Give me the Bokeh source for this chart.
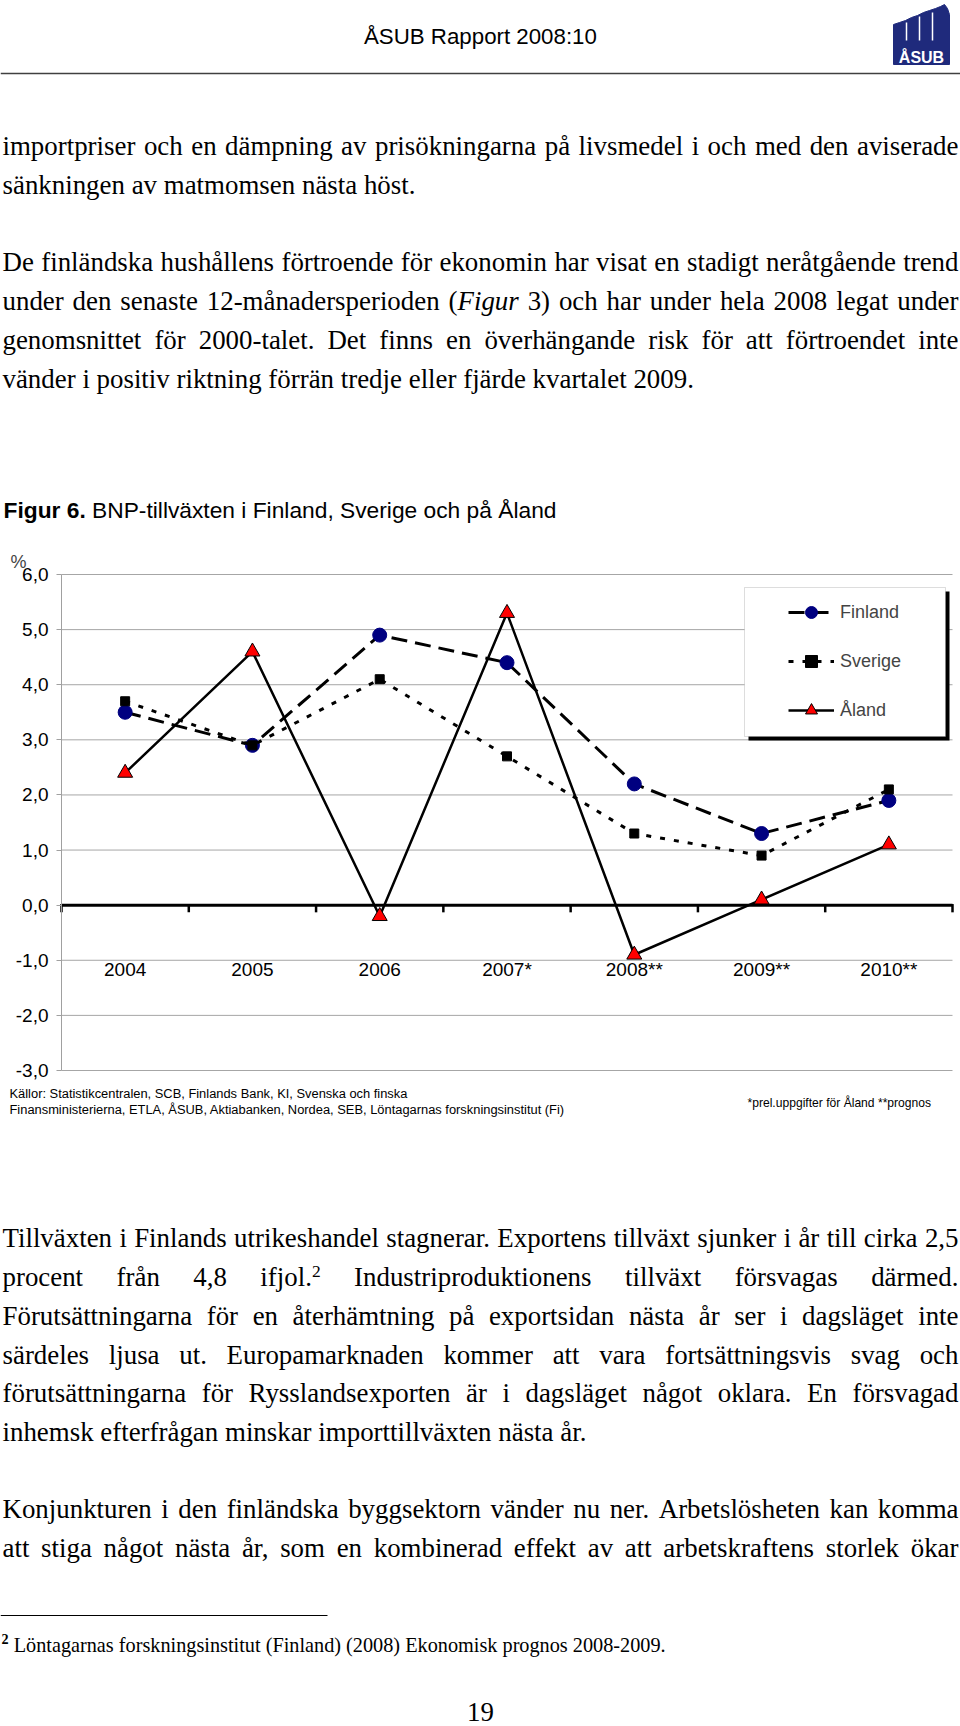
import glob
import os
import re

from bokeh.plotting import figure
from bokeh.models import (Range1d, FixedTicker, CustomJSTickFormatter,
                          Span, Label, Legend, LegendItem, BoxAnnotation)
from bokeh.layouts import column
from bokeh.core.properties import value
from bokeh.embed import file_html
from bokeh.resources import INLINE

# ---------------- chart data ----------------
years = ["2004", "2005", "2006", "2007*", "2008**", "2009**", "2010**"]
finland = [3.5, 2.9, 4.9, 4.4, 2.2, 1.3, 1.9]
sverige = [3.7, 2.9, 4.1, 2.7, 1.3, 0.9, 2.1]
aland = [2.4, 4.6, -0.2, 5.3, -0.9, 0.1, 1.1]
series_names = ["Finland", "Sverige", "Åland"]
y_ticks = [-3, -2, -1, 0, 1, 2, 3, 4, 5, 6]
y_unit = "%"

# ---------------- page texts ----------------
header_text = "ÅSUB Rapport 2008:10"
logo_text = "ÅSUB"
title_bold = "Figur 6."
title_rest = "BNP-tillväxten i Finland, Sverige och på Åland"
source_lines = [
    "Källor: Statistikcentralen, SCB, Finlands Bank, KI,  Svenska och finska",
    "Finansministerierna,  ETLA, ÅSUB, Aktiabanken, Nordea, SEB, Löntagarnas forskningsinstitut (Fi)",
]
note_text = "*prel.uppgifter för Åland  **prognos"
top_lines = [
    ("importpriser och en dämpning av prisökningarna på livsmedel i och med den aviserade", True),
    ("sänkningen av matmomsen nästa höst.", False),
    ("De finländska hushållens förtroende för ekonomin har visat en stadigt neråtgående trend", True),
    ("under den senaste 12-månadersperioden ({i:Figur} 3) och har under hela 2008 legat under", True),
    ("genomsnittet för 2000-talet. Det finns en överhängande risk för att förtroendet inte", True),
    ("vänder i positiv riktning förrän tredje eller fjärde kvartalet 2009.", False),
]
bottom_lines = [
    ("Tillväxten i Finlands utrikeshandel stagnerar. Exportens tillväxt sjunker i år till cirka 2,5", True),
    ("procent från 4,8 ifjol.{sup:2} Industriproduktionens tillväxt försvagas därmed.", True),
    ("Förutsättningarna för en återhämtning på exportsidan nästa år ser i dagsläget inte", True),
    ("särdeles ljusa ut. Europamarknaden kommer att vara fortsättningsvis svag och", True),
    ("förutsättningarna för Rysslandsexporten är i dagsläget något oklara. En försvagad", True),
    ("inhemsk efterfrågan minskar importtillväxten nästa år.", False),
    ("Konjunkturen i den finländska byggsektorn vänder nu ner. Arbetslösheten kan komma", True),
    ("att stiga något nästa år, som en kombinerad effekt av att arbetskraftens storlek ökar", True),
]
footnote_text = "{bsup:2} Löntagarnas forskningsinstitut (Finland) (2008) Ekonomisk prognos 2008-2009."
page_number = "19"

# ---------------- layout constants (screen px) ----------------
W = 960
TOP_Y0, TOP_Y1 = 0, 540
CH_Y0, CH_Y1 = 540, 1082
BOT_Y0, BOT_Y1 = 1082, 1726
FRAME_L, FRAME_R, FRAME_T, FRAME_B = 61, 952, 574, 1070   # the -3..6 plot area
CH_FRAME_T = 548                                           # drawn frame top (room for labels)
TEXT_L, TEXT_R = 2, 958
BASE_K = 0.3  # empirical baseline correction (fraction of font size)
top_baselines = [154, 193, 270, 309, 348, 387]
bottom_baselines = [1246, 1285, 1324, 1363, 1401, 1440, 1517, 1556]

FONT_FILES = {"serif": "LiberationSerif-Regular.ttf", "serif_italic": "LiberationSerif-Italic.ttf",
              "serif_bold": "LiberationSerif-Bold.ttf", "sans": "LiberationSans-Regular.ttf",
              "sans_bold": "LiberationSans-Bold.ttf"}
FALLBACK_EM = {"serif": 0.45, "serif_italic": 0.44, "serif_bold": 0.48, "sans": 0.5, "sans_bold": 0.55}
STYLE_MAP = {"serif": ("Liberation Serif", "normal"), "serif_italic": ("Liberation Serif", "italic"),
             "serif_bold": ("Liberation Serif", "bold"), "sans": ("Liberation Sans", "normal"),
             "sans_bold": ("Liberation Sans", "bold")}
_font_cache = {}


def _load(style):
    if style in _font_cache:
        return _font_cache[style]
    f = None
    try:
        from PIL import ImageFont
        for d in ("/usr/share/fonts", "/usr/local/share/fonts", os.path.expanduser("~/.local/share/fonts"),
                  os.path.expanduser("~/.fonts")):
            hits = glob.glob(os.path.join(d, "**", FONT_FILES[style]), recursive=True)
            if hits:
                f = ImageFont.truetype(hits[0], 200)
                break
    except Exception:
        f = None
    _font_cache[style] = f
    return f


def measure(text, style, size):
    f = _load(style)
    if f is not None:
        try:
            return f.getlength(text) * size / 200.0
        except Exception:
            pass
    return len(text) * FALLBACK_EM[style] * size


def clamp(v, lo, hi):
    return max(lo, min(hi, v))


body_size = clamp(0.5 * (412 / measure("sänkningen av matmomsen nästa höst.", "serif", 1)
                         + 693 / measure(top_lines[5][0], "serif", 1)), 21, 28)
header_size = clamp(233 / measure(header_text, "sans", 1), 18, 24)
title_size = clamp(553 / (measure(title_bold + " ", "sans_bold", 1) + measure(title_rest, "sans", 1)), 17, 23)
source_size = clamp(559 / measure(source_lines[1], "sans", 1), 10, 13)
note_size = clamp(187 / measure(note_text, "sans", 1), 9, 13)
foot_size = clamp(652 / measure("Löntagarnas forskningsinstitut (Finland) (2008) Ekonomisk prognos 2008-2009.",
                                "serif", 1), 16, 22)

RUN_STYLES = {"i": ("serif_italic", 1.0, 0.0), "sup": ("serif", 0.65, -0.34), "bsup": ("serif_bold", 0.7, -0.42)}


def parse_word(word):
    runs = []
    for part in re.split(r"(\{\w+:[^}]*\})", word):
        if not part:
            continue
        m = re.match(r"\{(\w+):([^}]*)\}", part)
        if m:
            st, sc, dy = RUN_STYLES[m.group(1)]
            runs.append((m.group(2), st, sc, dy))
        else:
            runs.append((part, "serif", 1.0, 0.0))
    return runs


class TextCollector:
    def __init__(self):
        self.groups = {}

    def add(self, style, size, x, y, text):
        g = self.groups.setdefault((style, round(size, 2)), {"x": [], "y": [], "text": []})
        g["x"].append(x)
        g["y"].append(y - BASE_K * size)
        g["text"].append(text)

    def line(self, spec, base, size, justify, x0=TEXT_L, x1=TEXT_R):
        words = [parse_word(w) for w in spec.split(" ") if w]
        widths = [sum(measure(t, st, size * sc) for t, st, sc, dy in runs) for runs in words]
        if justify and len(words) > 1:
            gap = (x1 - x0 - sum(widths)) / (len(words) - 1)
        else:
            gap = measure(" ", "serif", size)
        x = x0
        for runs, w in zip(words, widths):
            xx = x
            for t, st, sc, dy in runs:
                self.add(st, size * sc, xx, base + dy * size, t)
                xx += measure(t, st, size * sc)
            x += w + gap

    def render(self, fig, color="black"):
        for (style, size), g in self.groups.items():
            fam, fstyle = STYLE_MAP[style]
            fig.text(x=g["x"], y=g["y"], text=g["text"], text_font=value(fam),
                     text_font_size=value(f"{size}px"), text_font_style=fstyle,
                     text_baseline="alphabetic", text_align="left", text_color=color)


def text_fig(y0, y1):
    f = figure(width=W, height=y1 - y0, x_range=Range1d(0, W), y_range=Range1d(y1, y0),
               output_backend="svg", toolbar_location=None, min_border=0, outline_line_color=None,
               x_axis_location=None, y_axis_location=None, background_fill_color="white",
               border_fill_color="white")
    f.grid.visible = False
    return f


# ---------------- top part of the page ----------------
top = text_fig(TOP_Y0, TOP_Y1)
tc = TextCollector()
for (spec, just), base in zip(top_lines, top_baselines):
    tc.line(spec, base, body_size, just)
hw = measure(header_text, "sans", header_size)
tc.add("sans", header_size, 480 - hw / 2, 43, header_text)
tc.add("sans_bold", title_size, 3, 516, title_bold)
tc.add("sans", title_size, 3 + measure(title_bold + " ", "sans_bold", title_size), 516, title_rest)
tc.render(top)
top.add_layout(Span(location=73, dimension="width", line_color="#404040", line_width=1.5))
# logo
logo_x = [893, 893, 899, 905, 911, 917, 923, 929, 935, 940, 944, 947, 949, 949]
logo_y = [64, 24, 22, 20, 17, 15, 12, 10, 8, 6, 4, 8, 14, 64]
top.patch(logo_x, logo_y, fill_color="#1F2A7C", line_color="#1F2A7C")
top.segment(x0=[906, 919, 932], y0=[22, 16, 12], x1=[906, 919, 932], y1=[40, 40, 40],
            line_color="white", line_width=1.5)
lc = TextCollector()
lw = measure(logo_text, "sans_bold", 16)
lc.add("sans_bold", 16, 921 - lw / 2, 62, logo_text)
lc.render(top, color="white")

# ---------------- chart ----------------
ncat = len(years)
px_per_x = (FRAME_R - FRAME_L) / ncat
px_per_y = (FRAME_B - FRAME_T) / (y_ticks[-1] - y_ticks[0])


def sx(px):
    return (px - FRAME_L) / px_per_x


def sy(py):
    return y_ticks[-1] - (py - FRAME_T) / px_per_y


xs = [i + 0.5 for i in range(ncat)]  # category centres
chart = figure(width=W, height=CH_Y1 - CH_Y0, x_range=Range1d(sx(0), sx(W)),
               y_range=Range1d(sy(CH_Y1), sy(CH_FRAME_T)), output_backend="svg", toolbar_location=None,
               min_border_left=0, min_border_right=0, min_border_top=CH_FRAME_T - CH_Y0,
               min_border_bottom=0, x_axis_location=None, outline_line_color=None,
               background_fill_color="white", border_fill_color="white")
chart.grid.visible = False
chart.yaxis.fixed_location = 0
chart.yaxis.bounds = (y_ticks[0], y_ticks[-1])
chart.yaxis.ticker = FixedTicker(ticks=y_ticks)
chart.yaxis.formatter = CustomJSTickFormatter(code="return tick.toFixed(1).replace('.', ',');")
chart.yaxis.axis_line_color = "#A0A0A0"
chart.yaxis.major_tick_line_color = "#A0A0A0"
chart.yaxis.major_tick_out = 5
chart.yaxis.major_tick_in = 0
chart.yaxis.minor_tick_line_color = None
chart.yaxis.major_label_standoff = 8
chart.yaxis.major_label_text_font = "Liberation Sans"
chart.yaxis.major_label_text_font_size = "19px"
chart.yaxis.major_label_text_color = "black"

# horizontal gridlines limited to the plot area
chart.segment(x0=[0] * len(y_ticks), y0=y_ticks, x1=[ncat] * len(y_ticks), y1=y_ticks,
              line_color="#A6A6A6", line_width=1)
# category axis through zero with ticks between categories
chart.segment(x0=[0], y0=[0], x1=[ncat], y1=[0], line_color="black", line_width=3)
bounds = list(range(ncat + 1))
chart.segment(x0=bounds, y0=[0.02] * len(bounds), x1=bounds, y1=[-0.13] * len(bounds),
              line_color="black", line_width=2.5)
CAT_LABEL_Y = -1.17
chart.text(x=xs, y=[CAT_LABEL_Y] * ncat, text=years, text_font=value("Liberation Sans"),
           text_font_size=value("19px"), text_align="center", text_baseline="middle", text_color="black")

fin_line = chart.line(xs, finland, line_color="black", line_width=3, line_dash="16 8")
fin_pts = chart.scatter(xs, finland, marker="circle", size=14, fill_color="#000080", line_color="#000080")
sve_line = chart.line(xs, sverige, line_color="black", line_width=3, line_dash="5 9")
sve_pts = chart.scatter(xs, sverige, marker="square", size=9, fill_color="black", line_color="black")
ala_line = chart.line(xs, aland, line_color="black", line_width=2.5)
ala_pts = chart.scatter(xs, aland, marker="triangle", size=15, fill_color="#FF0000",
                        line_color="black", line_width=1)

chart.add_layout(Label(x=sx(10), y=sy(561), text=y_unit, text_font="Liberation Sans",
                       text_font_size="18px", text_baseline="middle", text_align="left"))

# legend box with shadow
chart.add_layout(BoxAnnotation(left=sx(748), right=sx(949), top=sy(591), bottom=sy(740),
                               fill_color="black", fill_alpha=1, line_color=None))
chart.add_layout(BoxAnnotation(left=sx(744), right=sx(945), top=sy(587), bottom=sy(736),
                               fill_color="white", fill_alpha=1, line_color="#909090", line_width=1))
legend = Legend(items=[LegendItem(label=series_names[0], renderers=[fin_line, fin_pts]),
                       LegendItem(label=series_names[1], renderers=[sve_line, sve_pts]),
                       LegendItem(label=series_names[2], renderers=[ala_line, ala_pts])],
                location=(778, CH_Y1 - 735), margin=0, padding=10, spacing=19,
                glyph_width=46, glyph_height=30, label_height=30, label_standoff=6,
                label_text_font="Liberation Sans", label_text_font_size="18px",
                border_line_alpha=0, background_fill_alpha=0)
chart.add_layout(legend)

# ---------------- bottom part of the page ----------------
bot = text_fig(BOT_Y0, BOT_Y1)
bc = TextCollector()
bc.add("sans", source_size, 9, 1097, source_lines[0])
bc.add("sans", source_size, 9, 1113, source_lines[1])
bc.add("sans", note_size, 747, 1106, note_text)
for (spec, just), base in zip(bottom_lines, bottom_baselines):
    bc.line(spec, base, body_size, just)
bc.line(footnote_text, 1651, foot_size, False, x0=1)
pw = measure(page_number, "serif", body_size)
bc.add("serif", body_size, 480 - pw / 2, 1720, page_number)
bc.render(bot)
bot.segment(x0=[0], y0=[1615], x1=[327], y1=[1615], line_color="black", line_width=1)

page = column(top, chart, bot, spacing=0)
open("out.html", "w").write(file_html(page, INLINE))
